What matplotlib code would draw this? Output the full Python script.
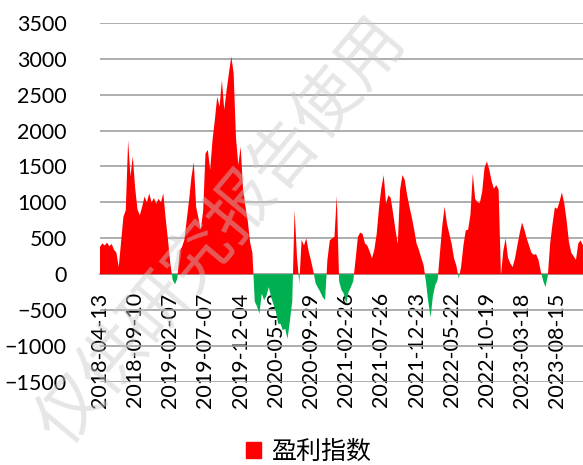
import numpy as np
import pandas as pd
import matplotlib.pyplot as plt
from matplotlib.patches import Patch

# profit index, one reading every 10 days from the start date
start = '2018-04-13'
step_days = 10
profit = [
    380, 430, 400, 440, 390, 420, 340, 300, 100, 450,
    800, 890, 1860, 1360, 1640, 1200, 900, 820, 940, 1080,
    1000, 1125, 1000, 1060, 980, 1050, 1000, 1125, 780, 480,
    150, -80, -140, -60, 330, 380, 480, 760, 1030, 1350,
    1560, 940, 780, 620, 880, 1680, 1730, 1450, 1870, 2150,
    2470, 2330, 2700, 2290, 2560, 2800, 3030, 2800, 1900, 1520,
    1775, 1200, 950, 750, 450, 300, -380, -450, -550, -270,
    -360, -300, -180, -320, -420, -520, -690, -690, -780, -760,
    -900, -650, -380, 890, 250, -130, 480, 400, 500, 320,
    190, 40, -130, -190, -250, -320, -360, 200, 470, 500,
    520, 1090, -100, -220, -270, -410, -250, -180, -100, 200,
    520, 580, 560, 430, 400, 320, 220, 340, 560, 920,
    1200, 1380, 980, 1100, 1060, 850, 620, 420, 1180, 1380,
    1310, 1100, 940, 790, 620, 430, 340, 230, 130, -100,
    -380, -600, -300, -150, -80, 300, 680, 940, 700, 560,
    420, 220, 120, -60, 100, 400, 610, 620, 830, 1400,
    1050, 1000, 990, 1150, 1480, 1570, 1460, 1300, 1190, 1240,
    1180, -20, 320, 500, 230, 150, 100, 220, 400, 570,
    720, 620, 500, 400, 300, 270, 280, 200, 40, -90,
    -180, -20, 430, 700, 930, 910, 1010, 1140, 990, 750,
    450, 300, 250, 200, 430, 470, 400,
]
label_every = 150
n_labels = 14
y_ticks = list(range(-1500, 3501, 500))

y = np.array(profit, dtype=float)
x = np.arange(len(y)) * step_days
tick_pos = np.arange(n_labels) * label_every
tick_labels = [d.strftime('%Y-%m-%d')
               for d in pd.Timestamp(start) + pd.to_timedelta(tick_pos, unit='D')]

fig = plt.figure(figsize=(5.83, 4.65), dpi=100)
ax = fig.add_axes([0.1715, 0.1785, 0.8285, 0.7725])

# category axis sits on the zero line (set before ticks, it resets them)
for side in ['left', 'right', 'top']:
    ax.spines[side].set_visible(False)
ax.spines['bottom'].set_position(('data', 0))
ax.spines['bottom'].set_color('#a0a0a0')
ax.spines['bottom'].set_linewidth(1.2)
ax.spines['bottom'].set_zorder(0.5)

ax.fill_between(x, y, 0, where=y >= 0, interpolate=True, color='#ff0000', lw=0)
ax.fill_between(x, y, 0, where=y < 0, interpolate=True, color='#00b050', lw=0)

ax.set_xlim(x[0], x[-1])
ax.set_ylim(y_ticks[0], y_ticks[-1])
ax.set_yticks(y_ticks)
ax.set_xticks(tick_pos)
ax.set_xticklabels(tick_labels)

ax.grid(axis='y', color='#a0a0a0', lw=1.2)
ax.set_axisbelow(True)

ax.tick_params(axis='both', length=0, labelsize=15.5)
ax.tick_params(axis='x', pad=13, labelrotation=90)
ax.tick_params(axis='y', pad=24)
for lab in ax.get_xticklabels() + ax.get_yticklabels():
    lab.set_family('Lato')
    lab.set_zorder(5)

fig.legend(handles=[Patch(color='#ff0000')], labels=['盈利指数'],
           loc='center', bbox_to_anchor=(0.53, 0.028), frameon=False,
           prop={'family': 'Noto Sans CJK SC', 'size': 18},
           handlelength=0.6, handleheight=0.6, handletextpad=0.4)

# faint diagonal watermark
fig.text(0.38, 0.5, '仅供研究报告使用', rotation=50, fontsize=48,
         color='#c8c8c8', alpha=0.45, family='Noto Sans CJK SC',
         ha='center', va='center', zorder=10)

fig.savefig('out.png', dpi=100)
